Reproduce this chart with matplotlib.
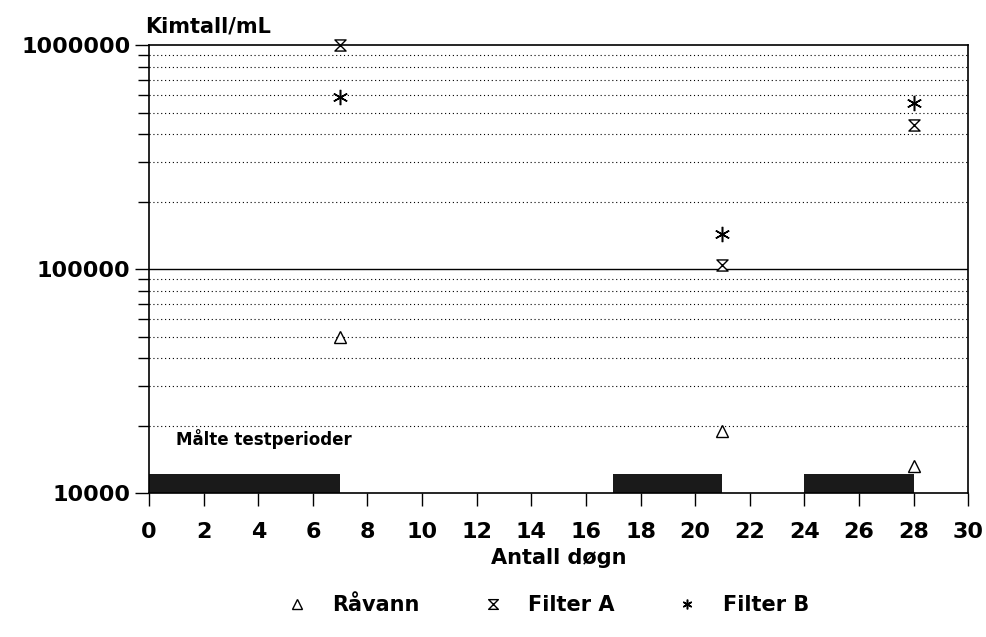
import matplotlib
matplotlib.use("Agg")
import matplotlib.pyplot as plt
from matplotlib.path import Path
from matplotlib.ticker import FixedLocator, NullFormatter

plt.rcParams['font.family'] = ['DejaVu Sans']

days = [7, 21, 28]
ravann = [50000, 19000, 13200]
filter_a = [1000000, 104000, 440000]
filter_b = [590000, 143000, 550000]

periods_start = [0, 17, 24]
periods_end = [7, 21, 28]
period_height = 12200

xticks = list(range(0, 31, 2))
yticks_major = [10000, 100000, 1000000]
ytick_labels = ['10000', '100000', '1000000']

hourglass = Path(
    [(-1, 1), (1, 1), (0, 0), (1, -1), (-1, -1), (0, 0), (-1, 1)],
    [Path.MOVETO, Path.LINETO, Path.LINETO, Path.LINETO, Path.LINETO, Path.LINETO, Path.CLOSEPOLY])

fig = plt.figure(figsize=(9.87, 6.37), dpi=100)
ax = fig.add_axes([0.151, 0.226, 0.830, 0.703])
ax.set_yscale('log')
ax.set_ylim(10000, 1000000)
ax.set_xlim(0, 30)

# grid lines
minor = [m * 10 ** e for e in (4, 5) for m in range(2, 10)]
for v in minor:
    ax.axhline(v, color='black', lw=0.8, ls=(0, (1, 2.5)), zorder=1)
ax.axhline(100000, color='black', lw=1.0, zorder=1)

# measured test periods
for s, e in zip(periods_start, periods_end):
    ax.fill_between([s, e], 10000, period_height, color='#1a1a1a', lw=0, zorder=2)

ax.plot(days, ravann, ls='none', marker='^', mfc='white', mec='black', ms=9, mew=1.0, zorder=3,
        clip_on=False, label='Råvann')
ax.plot(days, filter_a, ls='none', marker=hourglass, mfc='white', mec='black', ms=8, mew=1.0, zorder=3,
        clip_on=False, label='Filter A')
ax.plot(days, filter_b, ls='none', marker=(6, 2, 0), color='black', ms=11, mew=1.1, zorder=3,
        clip_on=False, label='Filter B')

ax.yaxis.set_major_locator(FixedLocator(yticks_major))
ax.set_yticklabels(ytick_labels)
ax.yaxis.set_minor_locator(FixedLocator(minor))
ax.yaxis.set_minor_formatter(NullFormatter())
ax.set_xticks(xticks)
ax.tick_params(axis='both', which='both', direction='out', color='black')
ax.tick_params(axis='y', which='major', length=10, width=1, labelsize=16)
ax.tick_params(axis='y', which='minor', length=8, width=1)
ax.tick_params(axis='x', length=9, width=1, labelsize=16, pad=12)
for lab in ax.get_xticklabels() + ax.get_yticklabels():
    lab.set_fontweight('bold')

for sp in ax.spines.values():
    sp.set_linewidth(1.2)

ax.set_xlabel('Antall døgn', fontsize=15, fontweight='bold', labelpad=4)
fig.text(0.147, 0.958, 'Kimtall/mL', fontsize=15, fontweight='bold', ha='left', va='center')
ax.text(1.0, 19300, 'Målte testperioder', fontsize=12, fontweight='bold', ha='left', va='top')

leg = fig.legend(loc='center', bbox_to_anchor=(0.555, 0.05), ncol=3, frameon=False,
                 fontsize=15, handlelength=1.0, columnspacing=3.0, handletextpad=1.2)
for t in leg.get_texts():
    t.set_fontweight('bold')
for h in leg.legend_handles:
    h.set_markersize(7)

fig.savefig('out.png', dpi=100)
